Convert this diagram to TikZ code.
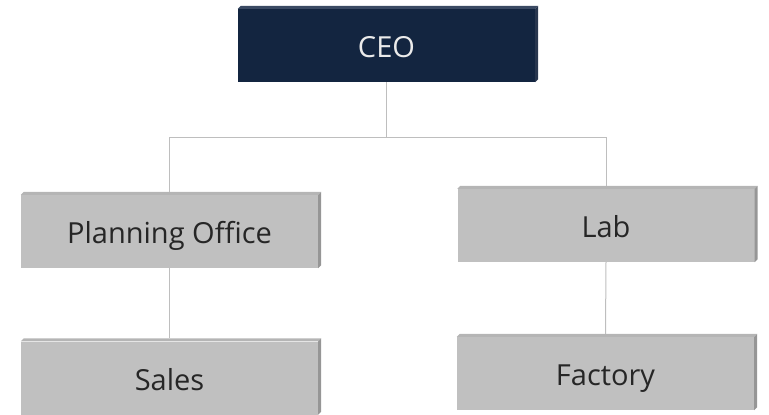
\documentclass[tikz,border=0pt]{standalone}
\usepackage{fontspec}
\setmainfont{Open Sans}
\definecolor{navy}{RGB}{19,37,64}
\definecolor{navytop}{RGB}{58,74,99}
\definecolor{navyside}{RGB}{40,54,78}
\definecolor{boxgray}{RGB}{192,192,192}
\definecolor{boxtop}{RGB}{181,181,181}
\definecolor{boxside}{RGB}{150,150,150}
\definecolor{linkgray}{RGB}{190,190,190}
\tikzset{
  unit/.style = {minimum width=297pt, minimum height=73pt, inner sep=0pt, anchor=center,
                 text height=24pt, text depth=0pt, font=\fontsize{29}{34}\selectfont},
  grayunit/.style = {unit, fill=boxgray, text=black!85},
  headunit/.style = {unit, fill=navy, text=white!92!black},
  link/.style = {draw=linkgray, line width=1pt}
}
% bevel: top face and right face of a box
\newcommand{\bevel}[3]{%
  \fill[#2] (#1.north west) -- ++(3pt,3pt) -- ([shift={(3pt,3pt)}]#1.north east) -- (#1.north east) -- cycle;
  \fill[#3] (#1.north east) -- ++(3pt,3pt) -- ([shift={(3pt,3pt)}]#1.south east) -- (#1.south east) -- cycle;
}
\begin{document}
\begin{tikzpicture}[x=1pt, y=1pt]
        \useasboundingbox (0,0) rectangle (769,-415);
        \node[headunit] (ceo) at (386.5,-45.5) {CEO};
        \node[grayunit] (plan) at (169.5,-231.5) {Planning Office};
        \node[grayunit] (lab) at (606,-225.5) {Lab};
        \node[grayunit] (sales) at (169.5,-378) {Sales};
        \node[grayunit] (factory) at (605.5,-373.5) {Factory};
        \bevel{ceo}{navytop}{navyside}
        \foreach \n in {plan,lab,sales,factory} {\bevel{\n}{boxtop}{boxside}}
        \coordinate (bus) at (0,-137);
        \draw[link] (ceo.south) -- (ceo.south |- bus);
        \draw[link] ([yshift=3pt]plan.north) -- (plan.north |- bus) -- (lab.north |- bus) -- ([yshift=3pt]lab.north);
        \draw[link] (plan.south) -- ([yshift=3pt]sales.north);
        \draw[link] (lab.south) -- ([yshift=3pt]factory.north);
\end{tikzpicture}
\end{document}
